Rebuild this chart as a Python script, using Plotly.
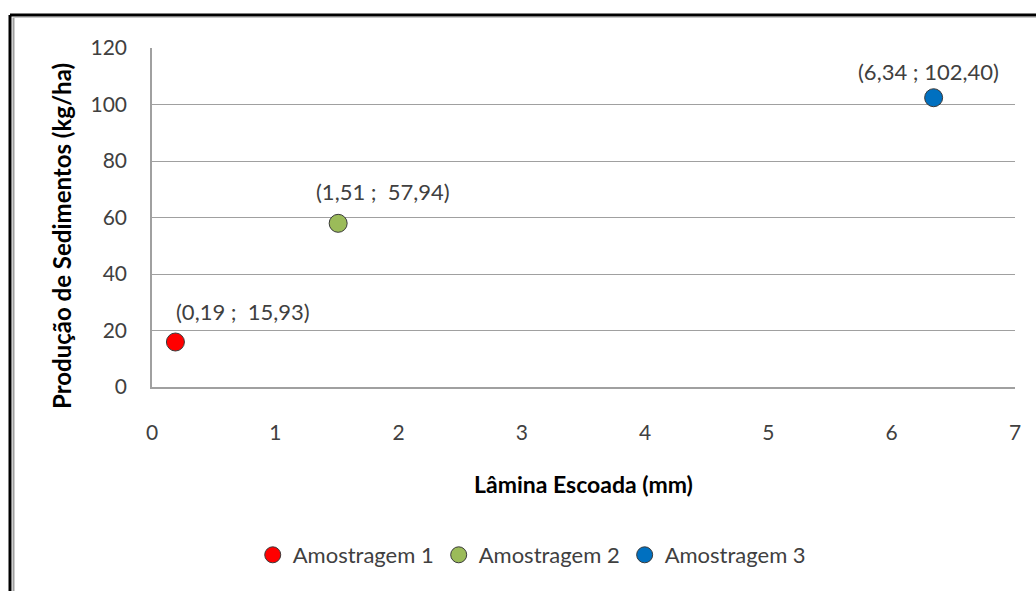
import plotly.graph_objects as go

names = ["Amostragem 1", "Amostragem 2", "Amostragem 3"]
x_vals = [0.19, 1.51, 6.34]
y_vals = [15.93, 57.94, 102.40]
labels = ["(0,19 ;  15,93)", "(1,51 ;  57,94)", "(6,34 ; 102,40)"]
colors = ["#FF0000", "#9BBB59", "#0070C0"]
label_shift = [(68, 31), (45, 32), (-5, 26)]
x_title = "Lâmina Escoada (mm)"
y_title = "Produção de Sedimentos (kg/ha)"

FONT = "Lato, Open Sans, sans-serif"
W, H = 1036, 591
L, R, T, B = 152, 21, 48, 204
pw, ph = W - L - R, H - T - B

fig = go.Figure()
for n, xv, yv, c in zip(names, x_vals, y_vals, colors):
    fig.add_trace(go.Scatter(
        x=[xv], y=[yv], mode="markers", name=n,
        marker=dict(size=18, color=c, line=dict(color="#3a3a3a", width=1)),
    ))

for xv, yv, t, (dx, dy) in zip(x_vals, y_vals, labels, label_shift):
    fig.add_annotation(x=xv, y=yv, text=t, showarrow=False, xshift=dx, yshift=dy,
                       font=dict(family=FONT, size=22, color="#404040"))

def px(p):
    return (p - L) / pw

def py(p):
    return (H - B - p) / ph

# y axis title placed as rotated annotation
fig.add_annotation(xref="paper", yref="paper", x=px(61), y=py(236), text="<b>" + y_title + "</b>",
                   textangle=-90, showarrow=False, xanchor="center", yanchor="middle",
                   font=dict(family=FONT, size=24, color="#000000"))

# outer frame (black) and inner grey line
fig.add_shape(type="line", xref="paper", yref="paper", x0=px(10), x1=px(10), y0=py(15), y1=py(600),
              line=dict(color="black", width=3))
fig.add_shape(type="line", xref="paper", yref="paper", x0=px(10), x1=px(1040), y0=py(15), y1=py(15),
              line=dict(color="black", width=3))
fig.add_shape(type="line", xref="paper", yref="paper", x0=px(13.5), x1=px(13.5), y0=py(17.5), y1=py(600),
              line=dict(color="#a0a0a0", width=2))
fig.add_shape(type="line", xref="paper", yref="paper", x0=px(13.5), x1=px(1040), y0=py(17.5), y1=py(17.5),
              line=dict(color="#c8c8c8", width=1))

fig.update_layout(
    width=W, height=H,
    margin=dict(l=L, r=R, t=T, b=B),
    paper_bgcolor="white", plot_bgcolor="white",
    font=dict(family=FONT, size=21, color="#404040"),
    showlegend=True,
    legend=dict(orientation="h", x=0.44, xanchor="center", y=py(555), yanchor="middle",
                font=dict(family=FONT, size=22, color="#404040"), itemwidth=30,
                tracegroupgap=0),
)
fig.update_xaxes(range=[0, 7], dtick=1, showgrid=False, showline=True, linecolor="#a0a0a0",
                 linewidth=1.5, zeroline=False, ticks="", ticklabelstandoff=26,
                 title=dict(text="<b>" + x_title + "</b>", standoff=34,
                            font=dict(family=FONT, size=23, color="#000000")))
fig.update_yaxes(range=[0, 120], dtick=20, showgrid=True, gridcolor="#a0a0a0", gridwidth=1,
                 showline=True, linecolor="#a0a0a0", linewidth=1.5, zeroline=False, ticks="",
                 ticklabelstandoff=19)

fig.write_html("out.html", config={"displayModeBar": False},
               post_script="document.body.style.margin='0';document.body.style.overflow='hidden';")
